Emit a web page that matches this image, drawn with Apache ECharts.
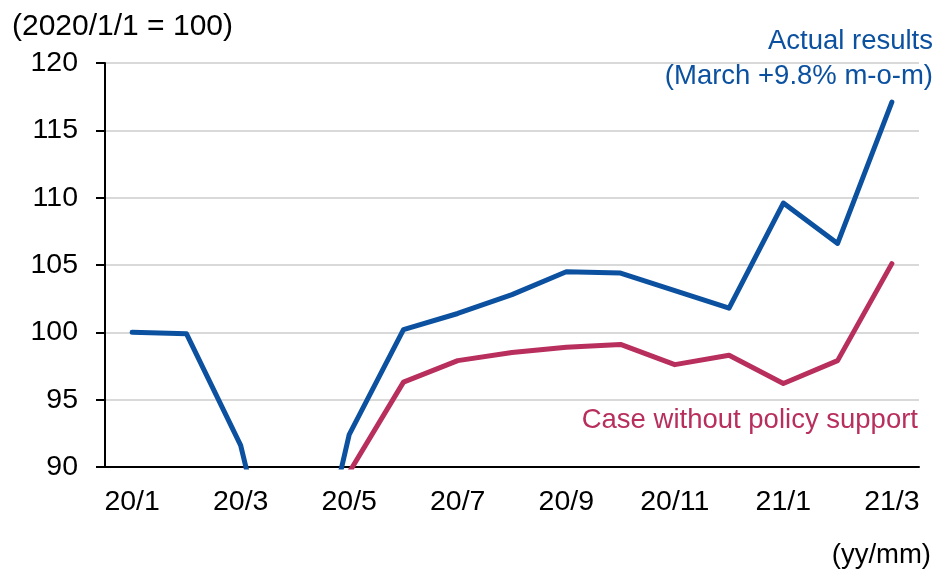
<!DOCTYPE html>
<html>
<head>
<meta charset="utf-8">
<script src="https://cdn.jsdelivr.net/npm/echarts@6/dist/echarts.min.js"></script>
<style>
  html, body { margin: 0; padding: 0; background: #fff; }
  #chart { width: 937px; height: 569px; }
</style>
</head>
<body>
<div id="chart"></div>
<script>
// monthly index, 2020/1/1 = 100
var months = ['20/1', '20/2', '20/3', '20/4', '20/5', '20/6', '20/7', '20/8', '20/9', '20/10', '20/11', '20/12', '21/1', '21/2', '21/3']
var actualResults = [100.0, 99.9, 91.6, 75.0, 92.4, 100.2, 101.4, 102.8, 104.5, 104.4, 103.1, 101.8, 109.6, 106.6, 117.1]
var withoutSupport = [null, null, null, null, 89.6, 96.3, 97.9, 98.5, 98.9, 99.1, 97.6, 98.3, 96.2, 97.9, 105.1]
var yTicks = [90, 95, 100, 105, 110, 115, 120]

var blue = '#0c51a0'
var red = '#b82f5d'
var font = '"Liberation Sans", Arial, sans-serif'

var myChart = echarts.init(document.getElementById('chart'))
var options = {
  animation: false,
  backgroundColor: '#fff',
  textStyle: { fontFamily: font },
  grid: { left: 105, right: 18, top: 63, bottom: 102, containLabel: false },
  xAxis: {
    type: 'category',
    data: months,
    boundaryGap: true,
    axisLine: { lineStyle: { color: '#000', width: 2 } },
    axisTick: { interval: 1, length: 8, lineStyle: { color: '#000', width: 2 } },
    axisLabel: { interval: 1, margin: 21, color: '#000', fontSize: 28.5, fontFamily: font },
    splitLine: { show: false }
  },
  yAxis: {
    type: 'value',
    min: yTicks[0],
    max: yTicks[yTicks.length - 1],
    interval: 5,
    axisLine: { show: true, lineStyle: { color: '#000', width: 2 } },
    axisTick: { show: true, length: 9, lineStyle: { color: '#000', width: 2 } },
    axisLabel: { margin: 27, color: '#000', fontSize: 28.5, fontFamily: font },
    splitLine: { lineStyle: { color: '#d9d9d9', width: 2 } }
  },
  series: [
    {
      name: 'Case without policy support',
      type: 'line',
      data: withoutSupport,
      showSymbol: false,
      clip: true,
      lineStyle: { color: red, width: 5, cap: 'round', join: 'round' },
      itemStyle: { color: red }
    },
    {
      name: 'Actual results',
      type: 'line',
      data: actualResults,
      showSymbol: false,
      clip: true,
      lineStyle: { color: blue, width: 5, cap: 'round', join: 'round' },
      itemStyle: { color: blue }
    }
  ],
  graphic: [
    {
      type: 'text', left: 12, top: 12,
      style: { text: '(2020/1/1 = 100)', font: '30px ' + font, fill: '#000' }
    },
    {
      type: 'text', right: 4, top: 27,
      style: { text: 'Actual results', font: '27.5px ' + font, fill: blue, textAlign: 'right' }
    },
    {
      type: 'text', right: 4, top: 62,
      style: { text: '(March +9.8% m-o-m)', font: '27.5px ' + font, fill: blue, textAlign: 'right' }
    },
    {
      type: 'text', right: 19, top: 406,
      style: { text: 'Case without policy support', font: '27.5px ' + font, fill: red, textAlign: 'right' }
    },
    {
      type: 'text', right: 6, top: 541,
      style: { text: '(yy/mm)', font: '27.5px ' + font, fill: '#000', textAlign: 'right' }
    }
  ]
}
myChart.setOption(options, true)
</script>
</body>
</html>
